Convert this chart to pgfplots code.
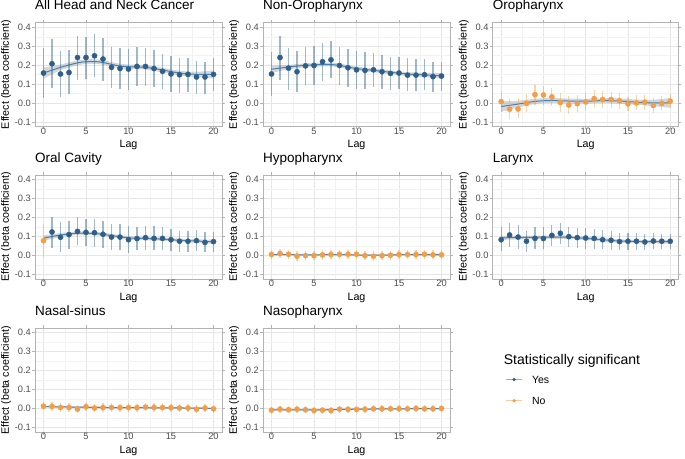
\documentclass[border=0pt]{standalone}
\usepackage{pgfplots}
\pgfplotsset{compat=1.18}
\usepackage{pgfplotstable}
\usepgfplotslibrary{fillbetween}
\usepackage{fontspec}
\setmainfont{Liberation Sans}

\definecolor{ptblue}{HTML}{2E5F8A}
\definecolor{ptorange}{HTML}{F59D45}
\definecolor{smline}{HTML}{4682B4}
\definecolor{ribbon}{HTML}{999999}
\definecolor{gridmaj}{HTML}{E6E6E6}
\definecolor{gridmin}{HTML}{F2F2F2}
\definecolor{border}{HTML}{B3B3B3}
\definecolor{txtgray}{HTML}{4D4D4D}

% lag, estimate, lower, upper
\pgfplotstableread{
lag est lo hi
0 0.158 0.026 0.289
1 0.207 0.079 0.337
2 0.153 0.030 0.272
3 0.161 0.047 0.279
4 0.240 0.123 0.354
5 0.240 0.125 0.351
6 0.249 0.135 0.363
7 0.232 0.118 0.342
8 0.188 0.077 0.296
9 0.182 0.074 0.289
10 0.179 0.070 0.284
11 0.193 0.091 0.296
12 0.193 0.091 0.293
13 0.182 0.086 0.279
14 0.167 0.072 0.261
15 0.153 0.060 0.246
16 0.149 0.054 0.237
17 0.151 0.056 0.240
18 0.137 0.047 0.223
19 0.137 0.047 0.219
20 0.151 0.065 0.237
}\ahn
\pgfplotstableread{
lag fit lo hi
0 0.158 0.128 0.188
2 0.188 0.173 0.203
4 0.212 0.199 0.225
5 0.218 0.206 0.230
6 0.219 0.207 0.231
7 0.214 0.202 0.226
8 0.204 0.192 0.216
9 0.195 0.183 0.207
10 0.191 0.179 0.203
12 0.188 0.176 0.200
14 0.174 0.162 0.186
16 0.158 0.146 0.170
18 0.151 0.137 0.165
20 0.151 0.130 0.172
}\ahnS

\pgfplotstableread{
lag est lo hi
0 0.153 0.035 0.270
1 0.240 0.123 0.354
2 0.184 0.070 0.293
3 0.165 0.058 0.272
4 0.196 0.093 0.298
5 0.198 0.095 0.300
6 0.218 0.114 0.319
7 0.228 0.130 0.328
8 0.198 0.096 0.296
9 0.186 0.086 0.286
10 0.175 0.075 0.275
11 0.172 0.075 0.267
12 0.175 0.084 0.265
13 0.165 0.074 0.251
14 0.156 0.068 0.244
15 0.158 0.075 0.244
16 0.147 0.061 0.235
17 0.147 0.065 0.230
18 0.149 0.068 0.233
19 0.139 0.060 0.214
20 0.142 0.065 0.219
}\nonoro
\pgfplotstableread{
lag fit lo hi
0 0.178 0.158 0.198
2 0.190 0.178 0.202
4 0.199 0.189 0.209
6 0.203 0.193 0.213
7 0.203 0.193 0.213
8 0.198 0.188 0.208
10 0.182 0.172 0.192
12 0.172 0.162 0.182
14 0.162 0.152 0.172
16 0.153 0.143 0.163
18 0.148 0.137 0.159
20 0.143 0.128 0.158
}\nonoroS

\pgfplotstableread{
lag est lo hi
0 0.007 -0.049 0.061
1 -0.033 -0.084 0.021
2 -0.032 -0.081 0.025
3 -0.002 -0.049 0.047
4 0.044 -0.009 0.095
5 0.042 -0.009 0.089
6 0.032 -0.016 0.079
7 0.002 -0.046 0.051
8 -0.011 -0.058 0.039
9 -0.004 -0.049 0.044
10 0.005 -0.040 0.051
11 0.023 -0.023 0.068
12 0.018 -0.026 0.061
13 0.018 -0.026 0.058
14 0.011 -0.032 0.051
15 -0.005 -0.044 0.033
16 0.000 -0.040 0.040
17 0.004 -0.037 0.044
18 -0.014 -0.051 0.026
19 -0.002 -0.037 0.037
20 0.009 -0.026 0.047
}\oro
\pgfplotstableread{
lag fit lo hi
0 -0.019 -0.047 0.009
2 -0.006 -0.024 0.012
4 0.008 -0.006 0.022
6 0.013 0.000 0.026
8 0.010 -0.003 0.023
10 0.009 -0.004 0.022
12 0.012 -0.001 0.025
14 0.010 -0.004 0.024
16 0.004 -0.010 0.018
18 0.000 -0.017 0.017
20 0.000 -0.026 0.026
}\oroS

\pgfplotstableread{
lag est lo hi
0 0.077 -0.011 0.165
}\oralNo
\pgfplotstableread{
lag est lo hi
1 0.123 0.039 0.204
2 0.095 0.016 0.174
3 0.109 0.033 0.182
4 0.126 0.053 0.200
5 0.121 0.047 0.193
6 0.119 0.044 0.191
7 0.111 0.039 0.179
8 0.096 0.026 0.165
9 0.096 0.026 0.165
10 0.082 0.012 0.153
11 0.088 0.025 0.151
12 0.093 0.030 0.156
13 0.089 0.026 0.153
14 0.089 0.028 0.149
15 0.082 0.023 0.140
16 0.074 0.016 0.130
17 0.074 0.018 0.130
18 0.077 0.021 0.132
19 0.068 0.016 0.121
20 0.072 0.018 0.125
}\oral
\pgfplotstableread{
lag fit lo hi
0 0.090 0.076 0.104
2 0.107 0.097 0.117
4 0.116 0.107 0.125
6 0.115 0.106 0.124
8 0.104 0.095 0.113
10 0.092 0.083 0.101
12 0.088 0.079 0.097
14 0.085 0.076 0.094
16 0.079 0.070 0.088
18 0.075 0.066 0.084
20 0.071 0.060 0.082
}\oralS

\pgfplotstableread{
lag est lo hi
0 0.004 -0.022 0.030
1 0.009 -0.016 0.033
2 0.005 -0.020 0.030
3 -0.005 -0.030 0.020
4 -0.002 -0.027 0.023
5 -0.002 -0.027 0.023
6 0.002 -0.023 0.027
7 0.004 -0.021 0.029
8 0.005 -0.020 0.030
9 0.005 -0.020 0.030
10 0.005 -0.020 0.030
11 -0.002 -0.027 0.023
12 -0.005 -0.030 0.020
13 -0.002 -0.026 0.022
14 0.000 -0.024 0.024
15 0.004 -0.020 0.028
16 0.004 -0.020 0.028
17 0.004 -0.020 0.028
18 0.005 -0.019 0.029
19 0.002 -0.022 0.026
20 0.002 -0.022 0.026
}\hypo
\pgfplotstableread{
lag fit lo hi
0 0.004 0.000 0.008
4 0.002 -0.002 0.006
8 0.003 -0.001 0.007
12 0.000 -0.004 0.004
16 0.003 -0.001 0.007
20 0.003 -0.002 0.008
}\hypoS

\pgfplotstableread{
lag est lo hi
0 0.082 0.021 0.147
1 0.107 0.042 0.170
2 0.096 0.035 0.158
3 0.074 0.016 0.130
4 0.089 0.033 0.147
5 0.088 0.033 0.147
6 0.105 0.047 0.161
7 0.116 0.060 0.170
8 0.098 0.042 0.151
9 0.093 0.039 0.144
10 0.091 0.035 0.144
11 0.089 0.035 0.140
12 0.082 0.033 0.132
13 0.079 0.030 0.126
14 0.072 0.026 0.118
15 0.074 0.028 0.118
16 0.074 0.030 0.116
17 0.070 0.026 0.110
18 0.075 0.032 0.116
19 0.074 0.032 0.112
20 0.074 0.032 0.114
}\lar
\pgfplotstableread{
lag fit lo hi
0 0.092 0.081 0.103
3 0.094 0.085 0.103
6 0.096 0.087 0.105
8 0.095 0.086 0.104
10 0.089 0.080 0.098
12 0.082 0.073 0.091
14 0.075 0.066 0.084
17 0.072 0.063 0.081
20 0.072 0.061 0.083
}\larS

\pgfplotstableread{
lag est lo hi
0 0.012 -0.010 0.034
1 0.011 -0.011 0.033
2 0.005 -0.017 0.027
3 0.005 -0.017 0.027
4 -0.004 -0.026 0.018
5 0.009 -0.013 0.031
6 0.002 -0.020 0.024
7 0.005 -0.017 0.027
8 0.005 -0.017 0.027
9 0.004 -0.018 0.026
10 0.005 -0.017 0.027
11 0.004 -0.018 0.026
12 0.007 -0.015 0.029
13 0.005 -0.017 0.027
14 0.005 -0.017 0.027
15 0.004 -0.018 0.026
16 0.002 -0.020 0.024
17 0.002 -0.020 0.024
18 -0.004 -0.026 0.018
19 0.002 -0.020 0.024
20 -0.002 -0.024 0.020
}\nas
\pgfplotstableread{
lag fit lo hi
0 0.010 0.006 0.014
5 0.006 0.002 0.010
10 0.004 0.000 0.008
15 0.003 -0.001 0.007
20 0.000 -0.004 0.004
}\nasS

\pgfplotstableread{
lag est lo hi
0 -0.009 -0.027 0.009
1 -0.004 -0.022 0.014
2 -0.007 -0.025 0.011
3 -0.004 -0.022 0.014
4 -0.007 -0.025 0.011
5 -0.011 -0.029 0.007
6 -0.009 -0.027 0.009
7 -0.011 -0.029 0.007
8 -0.004 -0.022 0.014
9 -0.005 -0.023 0.013
10 -0.005 -0.023 0.013
11 -0.004 -0.022 0.014
12 -0.002 -0.020 0.016
13 -0.002 -0.020 0.016
14 -0.002 -0.020 0.016
15 -0.002 -0.020 0.016
16 -0.002 -0.020 0.016
17 0.000 -0.018 0.018
18 -0.002 -0.020 0.016
19 -0.002 -0.020 0.016
20 0.000 -0.018 0.018
}\naso
\pgfplotstableread{
lag fit lo hi
0 -0.007 -0.011 -0.003
5 -0.008 -0.012 -0.004
10 -0.004 -0.008 0.000
15 -0.002 -0.006 0.002
20 -0.001 -0.005 0.003
}\nasoS

\pgfplotsset{
  panel/.style={
    width=187bp, height=104bp, scale only axis, anchor=north west,
    xmin=-1, xmax=21, ymin=-0.125, ymax=0.425,
    xtick={0,5,10,15,20}, minor xtick={2.5,7.5,12.5,17.5},
    ytick={-0.1,0,0.1,0.2,0.3,0.4}, minor ytick={-0.05,0.05,0.15,0.25,0.35},
    grid=both,
    major grid style={line width=0.6bp, draw=gridmaj},
    minor grid style={line width=0.35bp, draw=gridmin},
    axis line style={line width=0.6bp, draw=border},
    tick align=outside, major tick length=2.7bp, minor tick length=0pt,
    major tick style={line width=0.6bp, draw=border},
    tick label style={font=\fontsize{9.3bp}{11bp}\selectfont, text=txtgray, inner sep=0pt},
    xticklabel style={anchor=north, yshift=1.5bp},
    yticklabel style={anchor=east, xshift=-1.3bp},
    /pgf/number format/assume math mode=true,
    yticklabel={\pgfmathprintnumber[fixed, fixed zerofill, precision=1]{\tick}},
    xlabel={Lag}, ylabel={Effect (beta coefficient)},
    label style={font=\fontsize{10.7bp}{12bp}\selectfont},
    xlabel style={at={(axis description cs:0.5,-0.18)}, anchor=center, inner sep=0pt},
    ylabel style={at={(axis description cs:-0.155,0.5)}, anchor=center, inner sep=0pt},
    title style={at={(0,1)}, anchor=base west, yshift=6.8bp, inner sep=0pt,
      font=\fontsize{13.5bp}{15bp}\selectfont},
  },
  rib/.style={draw=none, fill=ribbon, fill opacity=0.4},
  fitline/.style={smooth, color=smline, line width=1bp},
  sig/.style={only marks, mark=*, mark size=2.6bp, color=ptblue,
    error bars/.cd, y dir=both, y explicit, error mark=none,
    error bar style={line width=1.05bp, draw=ptblue, draw opacity=0.45}},
  nsig/.style={only marks, mark=*, mark size=2.6bp, color=ptorange,
    error bars/.cd, y dir=both, y explicit, error mark=none,
    error bar style={line width=1.05bp, draw=ptorange, draw opacity=0.45}},
}

% ribbon + fitted line from a smooth table
\newcommand{\smoothfit}[1]{%
  \addplot[draw=none, smooth, name path=U] table[x=lag, y=hi] {#1};
  \addplot[draw=none, smooth, name path=L] table[x=lag, y=lo] {#1};
  \addplot[rib] fill between[of=U and L];
  \addplot[fitline] table[x=lag, y=fit] {#1};
}
\newcommand{\pts}[2]{%
  \addplot[#1] table[x=lag, y=est,
    y error plus expr=\thisrow{hi}-\thisrow{est},
    y error minus expr=\thisrow{est}-\thisrow{lo}] {#2};
}

\begin{document}
\begin{tikzpicture}
\path (0,0) rectangle (685bp,-455bp);

\begin{axis}[panel, at={(35bp,-19bp)}, title={All Head and Neck Cancer}]
\smoothfit{\ahnS}
\pts{sig}{\ahn}
\end{axis}

\begin{axis}[panel, at={(263bp,-19bp)}, title={Non-Oropharynx}]
\smoothfit{\nonoroS}
\pts{sig}{\nonoro}
\end{axis}

\begin{axis}[panel, at={(492.7bp,-19bp)}, width=186bp, title={Oropharynx}]
\smoothfit{\oroS}
\pts{nsig}{\oro}
\end{axis}

\begin{axis}[panel, at={(35bp,-171.3bp)}, title={Oral Cavity}]
\smoothfit{\oralS}
\pts{nsig}{\oralNo}
\pts{sig}{\oral}
\end{axis}

\begin{axis}[panel, at={(263bp,-171.3bp)}, title={Hypopharynx}]
\smoothfit{\hypoS}
\pts{nsig}{\hypo}
\end{axis}

\begin{axis}[panel, at={(492.7bp,-171.3bp)}, width=186bp, title={Larynx}]
\smoothfit{\larS}
\pts{sig}{\lar}
\end{axis}

\begin{axis}[panel, at={(35bp,-324.5bp)}, title={Nasal-sinus}]
\smoothfit{\nasS}
\pts{nsig}{\nas}
\end{axis}

\begin{axis}[panel, at={(263bp,-324.5bp)}, title={Nasopharynx}]
\smoothfit{\nasoS}
\pts{nsig}{\naso}
\end{axis}

% legend
\begin{axis}[at={(492.7bp,-324.5bp)}, anchor=north west, width=186bp, height=104bp,
  scale only axis, hide axis, xmin=0, xmax=186, ymin=-104, ymax=0,
  legend style={at={(axis cs:12.3,-47.5)}, anchor=north west, draw=none, fill=none,
    inner sep=0pt, row sep=13.6bp, font=\fontsize{10.5bp}{12bp}\selectfont,
    nodes={inner sep=0pt, text height=7.6bp, text depth=0bp},
    /tikz/every odd column/.append style={column sep=9bp}},
  legend cell align=left]
\addplot[draw=none, forget plot] coordinates {(0,0)};
\addlegendimage{legend image code/.code={
  \draw[line width=1.1bp, draw=ptblue, draw opacity=0.5] (0bp,0bp) -- (16.7bp,0bp);
  \fill[ptblue] (8.35bp,0bp) circle (1.5bp);}}
\addlegendentry{Yes}
\addlegendimage{legend image code/.code={
  \draw[line width=1.1bp, draw=ptorange, draw opacity=0.5] (0bp,0bp) -- (16.7bp,0bp);
  \fill[ptorange] (8.35bp,0bp) circle (1.5bp);}}
\addlegendentry{No}
\end{axis}
\node[anchor=west, inner sep=0pt, font=\fontsize{14bp}{16bp}\selectfont] at (503.7bp,-357bp) {Statistically significant};

\end{tikzpicture}
\end{document}
